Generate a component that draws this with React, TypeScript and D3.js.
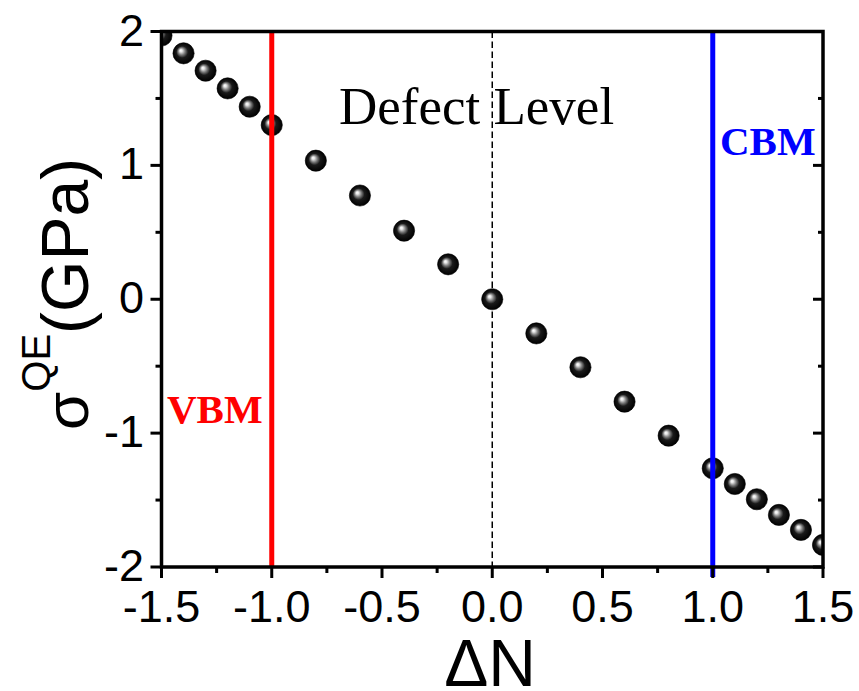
import React from "react";
import * as d3 from "d3";

const dN = [-1.5, -1.4, -1.3, -1.2, -1.1, -1.0, -0.8, -0.6, -0.4, -0.2, 0, 0.2, 0.4, 0.6, 0.8, 1.0, 1.1, 1.2, 1.3, 1.4, 1.5];
const sigma = [1.97, 1.837, 1.707, 1.575, 1.438, 1.301, 1.035, 0.775, 0.512, 0.261, 0, -0.255, -0.508, -0.765, -1.019, -1.263, -1.38, -1.494, -1.611, -1.723, -1.835];
const xMajor = [-1.5, -1.0, -0.5, 0.0, 0.5, 1.0, 1.5];
const xMinor = [-1.25, -0.75, -0.25, 0.25, 0.75, 1.25];
const yMajor = [-2, -1, 0, 1, 2];
const yMinor = [-1.5, -0.5, 0.5, 1.5];
const vLines = [
  { x: -1.0, color: "#FF0000", label: "VBM" },
  { x: 1.0, color: "#0000FF", label: "CBM" },
];

export default function App() {
  const W = 859, H = 691;
  const L = 161.5, R = 823, T = 31.5, B = 567;
  const x = d3.scaleLinear().domain([-1.5, 1.5]).range([L, R]);
  const y = d3.scaleLinear().domain([-2, 2]).range([B, T]);
  const sans = "'Liberation Sans', Arial, sans-serif";
  const serif = "'Liberation Serif', 'Times New Roman', serif";
  const axisW = 3.5;
  const fmtX = (v: number) => (v < 0 ? "-" : "") + Math.abs(v).toFixed(1);
  const fmtY = (v: number) => (v < 0 ? "-" : "") + Math.abs(v).toString();

  return (
    <svg width={W} height={H} style={{ position: "absolute", left: 0, top: 0, background: "#fff" }}>
      <defs>
        <radialGradient id="ball" cx="0.5" cy="0.5" r="0.5" fx="0.36" fy="0.36">
          <stop offset="0%" stopColor="#ffffff" />
          <stop offset="12%" stopColor="#e8e8e8" />
          <stop offset="32%" stopColor="#808080" />
          <stop offset="55%" stopColor="#1a1a1a" />
          <stop offset="100%" stopColor="#000000" />
        </radialGradient>
        <clipPath id="plot">
          <rect x={L} y={T} width={R - L} height={B - T} />
        </clipPath>
      </defs>

      {/* dashed line at 0 */}
      <line x1={x(0)} x2={x(0)} y1={T} y2={B} stroke="#000" strokeWidth={1.5} strokeDasharray="6.5,3.5" />

      {/* text */}
      <text x={339} y={124} fontFamily={serif} fontSize={53} fill="#000">Defect Level</text>

      {/* balls */}
      <g clipPath="url(#plot)">
        {dN.map((d, i) => (
          <circle key={i} cx={x(d)} cy={y(sigma[i])} r={10.6} fill="url(#ball)" stroke="#000" strokeWidth={0.6} />
        ))}
      </g>

      {/* vertical band lines */}
      {vLines.map((v, i) => (
        <line key={i} x1={x(v.x)} x2={x(v.x)} y1={T} y2={i === 1 ? B + 10 : B} stroke={v.color} strokeWidth={5} />
      ))}
      <text x={167} y={423} fontFamily={serif} fontWeight="bold" fontSize={41} fill="#FF0000">{vLines[0].label}</text>
      <text x={720} y={155} fontFamily={serif} fontWeight="bold" fontSize={41} fill="#0000FF">{vLines[1].label}</text>

      {/* frame */}
      <rect x={L} y={T} width={R - L} height={B - T} fill="none" stroke="#000" strokeWidth={axisW} />

      {/* x ticks */}
      {xMajor.map((v) => (
        <g key={"xM" + v}>
          <line x1={x(v)} x2={x(v)} y1={B} y2={B + 11} stroke="#000" strokeWidth={3} />
          <text x={x(v)} y={622} textAnchor="middle" fontFamily={sans} fontSize={45} fill="#000">{fmtX(v)}</text>
        </g>
      ))}
      {xMinor.map((v) => (
        <line key={"xm" + v} x1={x(v)} x2={x(v)} y1={B} y2={B + 6} stroke="#000" strokeWidth={3} />
      ))}

      {/* y ticks */}
      {yMajor.map((v) => (
        <g key={"yM" + v}>
          <line x1={L - 11} x2={L} y1={y(v)} y2={y(v)} stroke="#000" strokeWidth={3} />
          <line x1={R - 10} x2={R} y1={y(v)} y2={y(v)} stroke="#000" strokeWidth={3} />
          <text x={144} y={y(v) + 14} textAnchor="end" fontFamily={sans} fontSize={45} fill="#000">{fmtY(v)}</text>
        </g>
      ))}
      {yMinor.map((v) => (
        <g key={"ym" + v}>
          <line x1={L - 6} x2={L} y1={y(v)} y2={y(v)} stroke="#000" strokeWidth={3} />
          <line x1={R - 5} x2={R} y1={y(v)} y2={y(v)} stroke="#000" strokeWidth={3} />
        </g>
      ))}

      {/* axis titles */}
      <text x={490} y={686} textAnchor="middle" fontFamily={sans} fontSize={66} fill="#000">ΔN</text>
      <text transform="translate(88,430) rotate(-90)" fontFamily={sans} fill="#000">
        <tspan fontSize={62}>σ</tspan>
        <tspan fontSize={40} dy={-38}>QE</tspan>
        <tspan fontSize={66} dy={38}>(GPa)</tspan>
      </text>
    </svg>
  );
}
